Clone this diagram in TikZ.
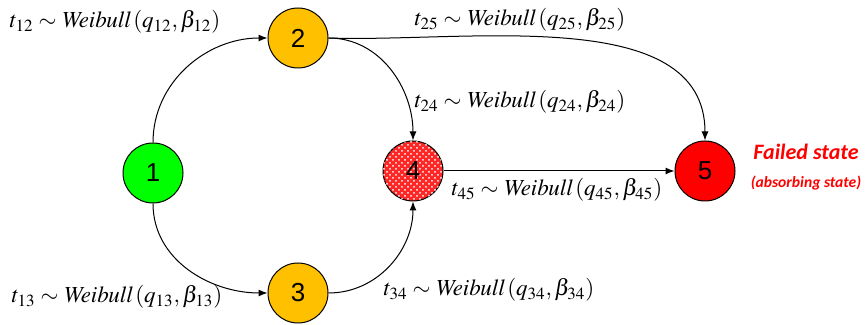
\documentclass[tikz,border=0pt]{standalone}
\usepackage{mathptmx}
\usepackage{fontspec}
\setmainfont{Liberation Serif}
\setsansfont{Liberation Sans}
\newfontfamily\calfont{Carlito}
\usetikzlibrary{arrows.meta, positioning, patterns}
\definecolor{cgreen}{HTML}{00FF00}
\definecolor{corange}{HTML}{FFC000}
\definecolor{cred}{HTML}{FF0000}
\tikzset{
  every picture/.style={x=0.5pt, y=0.5pt, line width=0.5pt},
  state/.style={circle, draw=black, fill=#1, minimum size=30pt, inner sep=0pt,
    font=\sffamily\fontsize{13}{13}\selectfont},
  state/.default=white,
  arrow/.style={-{Latex[length=4.5pt, width=3.5pt]}, draw=black},
  rate/.style={font=\fontsize{11.5}{12}\selectfont, inner sep=0pt},
  failnote/.style={font=\calfont\bfseries\itshape, text=cred, inner sep=0pt},
}
\newcommand{\wbl}[1]{$t_{#1}\sim \mathit{Weibull}\,(q_{#1},\beta_{#1})$}
\begin{document}
\begin{tikzpicture}
  \useasboundingbox (0,0) rectangle (868,325);
  % states
  \node[state=cgreen]  (n1) at (153,152) {1};
  \node[state=corange] (n2) at (298,287) {2};
  \node[state=corange] (n3) at (298,32)  {3};
  \node[state=cred, fill=cred!85, postaction={pattern=crosshatch dots, pattern color=white}] (n4) at (413,154) {4};
  \node[state=cred]    (n5) at (705,154) {5};
  % transitions
  \draw[arrow] (n1.north) to[out=90, in=180] (n2.west);
  \draw[arrow] (n1.south) to[out=-90, in=180] (n3.west);
  \draw[arrow] (n2.east) to[out=0, in=90] (n4.north);
  \draw[arrow] (n3.east) to[out=0, in=-90] (n4.south);
  \draw[arrow] (n2.east) to[out=-2, in=90, looseness=0.9] (n5.north);
  \draw[arrow] (n4.east) -- (n5.west);
  % labels
  \node[rate] (l12) at (115,303) {\wbl{12}};
  \node[rate] (l13) at (117,28)  {\wbl{13}};
  \node[rate] (l25) at (520,305) {\wbl{25}};
  \node[rate] (l24) at (520,223) {\wbl{24}};
  \node[rate] (l45) at (557,135) {\wbl{45}};
  \node[rate] (l34) at (489,35)  {\wbl{34}};
  \node[failnote, font=\calfont\bfseries\itshape\fontsize{11}{11}\selectfont] (fs) at (806,173) {Failed state};
  \node[failnote, font=\calfont\bfseries\itshape\fontsize{7.8}{8}\selectfont] (ab) at (806,142) {(absorbing state)};
\end{tikzpicture}
\end{document}
